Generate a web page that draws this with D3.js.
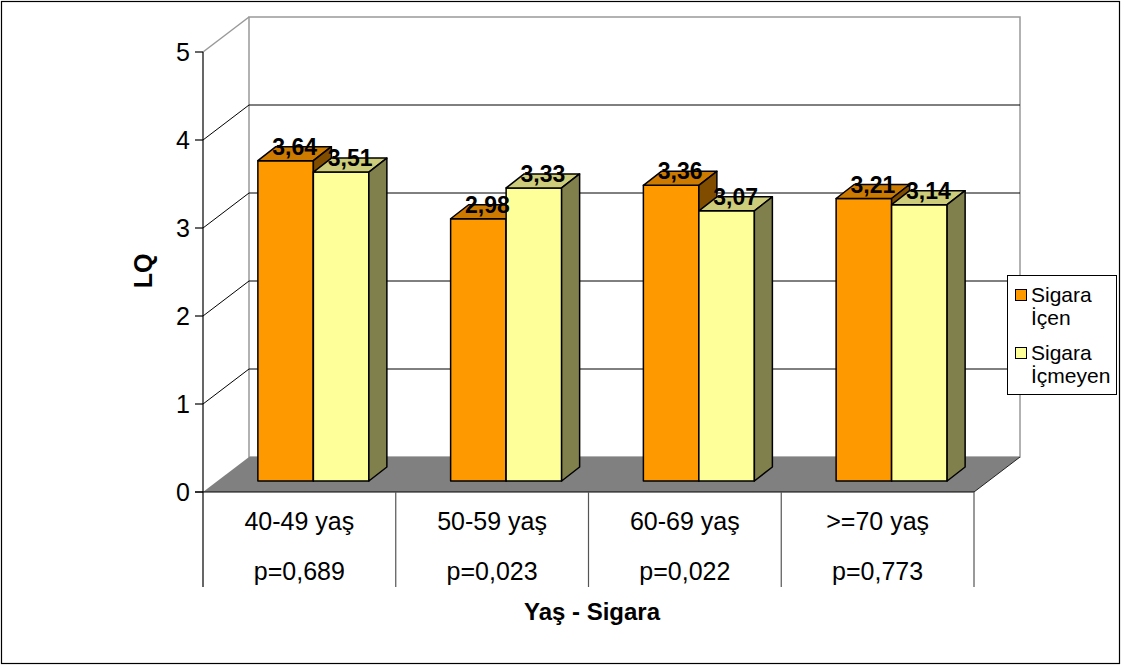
<!DOCTYPE html>
<html>
<head>
<meta charset="utf-8">
<script src="https://cdn.jsdelivr.net/npm/d3@7"></script>
<style>
  html, body { margin: 0; padding: 0; background: #fff; }
  svg { display: block; font-family: "Liberation Sans", Arial, sans-serif; }
</style>
</head>
<body>
<svg id="chart" width="1124" height="668"></svg>
<script>
// Age groups, p-values and LQ means per group
const categories = ["40-49 yaş", "50-59 yaş", "60-69 yaş", ">=70 yaş"];
const pValues = ["p=0,689", "p=0,023", "p=0,022", "p=0,773"];
const seriesNames = ["Sigara İçen", "Sigara İçmeyen"];
const smokers = [3.64, 2.98, 3.36, 3.21];
const nonSmokers = [3.51, 3.33, 3.07, 3.14];
const yTicks = [0, 1, 2, 3, 4, 5];

const seriesValues = [smokers, nonSmokers];
const palette = [
  { front: "#FF9900", top: "#CC7A00", side: "#804D00" },
  { front: "#FFFF99", top: "#CCCC7A", side: "#80804D" }
];

const svg = d3.select("#chart");

// frame
svg.append("rect").attr("x", 1.5).attr("y", 1.5).attr("width", 1118).attr("height", 662)
  .attr("fill", "#fff").attr("stroke", "#000").attr("stroke-width", 1.2);

// plot geometry (front plane) and 3D offsets
const x0 = 203, x1 = 974;
const y = d3.scaleLinear().domain([0, 5]).range([492, 52]);
const wall = { dx: 46, dy: -35 };      // back wall offset
const barPlane = { dx: 14, dy: -11 };  // front face of bars
const barDepth = { dx: 18, dy: -14 };  // bar depth

const x = d3.scaleBand().domain(categories).range([x0, x1]).padding(0);

// back wall
const g = svg.append("g");
g.append("rect")
  .attr("x", x0 + wall.dx).attr("y", y(5) + wall.dy)
  .attr("width", x1 - x0).attr("height", y(0) - y(5))
  .attr("fill", "#fff").attr("stroke", "#999").attr("stroke-width", 1.5);

// gridlines on back wall + side wall diagonals
yTicks.filter(t => t > 0).forEach(t => {
  const col = t === 5 ? "#999" : "#000";
  const w = t === 5 ? 1.5 : 1;
  if (t < 5) {
    g.append("line")
      .attr("x1", x0 + wall.dx).attr("x2", x1 + wall.dx)
      .attr("y1", y(t) + wall.dy).attr("y2", y(t) + wall.dy)
      .attr("stroke", col).attr("stroke-width", w);
  }
  g.append("line")
    .attr("x1", x0).attr("y1", y(t))
    .attr("x2", x0 + wall.dx).attr("y2", y(t) + wall.dy)
    .attr("stroke", col).attr("stroke-width", w);
});

// floor
const fl = [[x0, y(0)], [x1, y(0)], [x1 + wall.dx, y(0) + wall.dy], [x0 + wall.dx, y(0) + wall.dy]];
g.append("polygon").attr("points", fl.map(p => p.join(",")).join(" "))
  .attr("fill", "#808080");
g.append("line")
  .attr("x1", x1).attr("y1", y(0)).attr("x2", x1 + wall.dx).attr("y2", y(0) + wall.dy)
  .attr("stroke", "#222").attr("stroke-width", 1);

// bars
const inner = d3.scaleBand().domain([0, 1]).range([-55.5, 55.5]).padding(0);
const fmt = v => d3.format(".2f")(v).replace(".", ",");
const barsG = svg.append("g");
const labels = [];

categories.forEach((c, i) => {
  const cx = x(c) + x.bandwidth() / 2 + barPlane.dx;
  [0, 1].forEach(s => {
    const v = seriesValues[s][i];
    const bx = cx + inner(s);
    const bw = inner.bandwidth();
    const yb = y(0) + barPlane.dy;
    const yt = y(v) + barPlane.dy;
    const d = barDepth;
    const col = palette[s];
    const pts = arr => arr.map(p => p.join(",")).join(" ");
    barsG.append("polygon")
      .attr("points", pts([[bx, yt], [bx + bw, yt], [bx + bw, yb], [bx, yb]]))
      .attr("fill", col.front).attr("stroke", "#000").attr("stroke-width", 1.5).attr("stroke-linejoin", "round");
    barsG.append("polygon")
      .attr("points", pts([[bx, yt], [bx + d.dx, yt + d.dy], [bx + bw + d.dx, yt + d.dy], [bx + bw, yt]]))
      .attr("fill", col.top).attr("stroke", "#000").attr("stroke-width", 1.5).attr("stroke-linejoin", "round");
    barsG.append("polygon")
      .attr("points", pts([[bx + bw, yt], [bx + bw + d.dx, yt + d.dy], [bx + bw + d.dx, yb + d.dy], [bx + bw, yb]]))
      .attr("fill", col.side).attr("stroke", "#000").attr("stroke-width", 1.5).attr("stroke-linejoin", "round");
    labels.push({ x: bx + bw / 2 + d.dx / 2, y: yt - 6, text: fmt(v) });
  });
});

// value labels
svg.append("g").selectAll("text").data(labels).join("text")
  .attr("x", d => d.x).attr("y", d => d.y)
  .attr("text-anchor", "middle")
  .attr("font-size", 23).attr("font-weight", "bold").attr("fill", "#000")
  .text(d => d.text);

// y axis
const ax = svg.append("g");
ax.append("line").attr("x1", x0).attr("x2", x0).attr("y1", y(5)).attr("y2", y(0))
  .attr("stroke", "#000").attr("stroke-width", 1.2);
yTicks.forEach(t => {
  ax.append("line").attr("x1", x0 - 8).attr("x2", x0).attr("y1", y(t)).attr("y2", y(t))
    .attr("stroke", "#000").attr("stroke-width", 1.2);
  ax.append("text").attr("x", x0 - 13).attr("y", y(t)).attr("dy", "0.36em")
    .attr("text-anchor", "end").attr("font-size", 25).text(t);
});
// x axis line
ax.append("line").attr("x1", x0 - 8).attr("x2", x1).attr("y1", y(0)).attr("y2", y(0))
  .attr("stroke", "#000").attr("stroke-width", 1.2);

// category table
const tableBottom = 587;
d3.range(categories.length + 1).forEach(k => {
  const xx = x0 + k * x.step();
  ax.append("line").attr("x1", xx).attr("x2", xx).attr("y1", y(0)).attr("y2", tableBottom)
    .attr("stroke", k === 0 ? "#000" : "#555").attr("stroke-width", 1.2);
});
categories.forEach((c, i) => {
  const cx = x(c) + x.bandwidth() / 2;
  ax.append("text").attr("x", cx).attr("y", 530).attr("text-anchor", "middle")
    .attr("font-size", 25).text(c);
  ax.append("text").attr("x", cx).attr("y", 580).attr("text-anchor", "middle")
    .attr("font-size", 25).text(pValues[i]);
});

// axis titles
svg.append("text").attr("x", 592).attr("y", 620).attr("text-anchor", "middle")
  .attr("font-size", 24).attr("font-weight", "bold").text("Yaş - Sigara");
svg.append("text").attr("transform", "translate(152,271) rotate(-90)")
  .attr("text-anchor", "middle").attr("font-size", 25).attr("font-weight", "bold").text("LQ");

// legend
const lg = svg.append("g");
lg.append("rect").attr("x", 1007.5).attr("y", 275.5).attr("width", 109).attr("height", 119)
  .attr("fill", "#fff").attr("stroke", "#000").attr("stroke-width", 1);
seriesNames.forEach((name, s) => {
  const top = 289 + s * 58;
  lg.append("rect").attr("x", 1015.5).attr("y", top + 0.5).attr("width", 11).attr("height", 11)
    .attr("fill", palette[s].front).attr("stroke", "#000").attr("stroke-width", 1);
  const parts = name.split(" ");
  parts.forEach((p, j) => {
    lg.append("text").attr("x", 1031).attr("y", top + 12.5 + j * 23.5)
      .attr("font-size", 21).text(p);
  });
});
</script>
</body>
</html>
